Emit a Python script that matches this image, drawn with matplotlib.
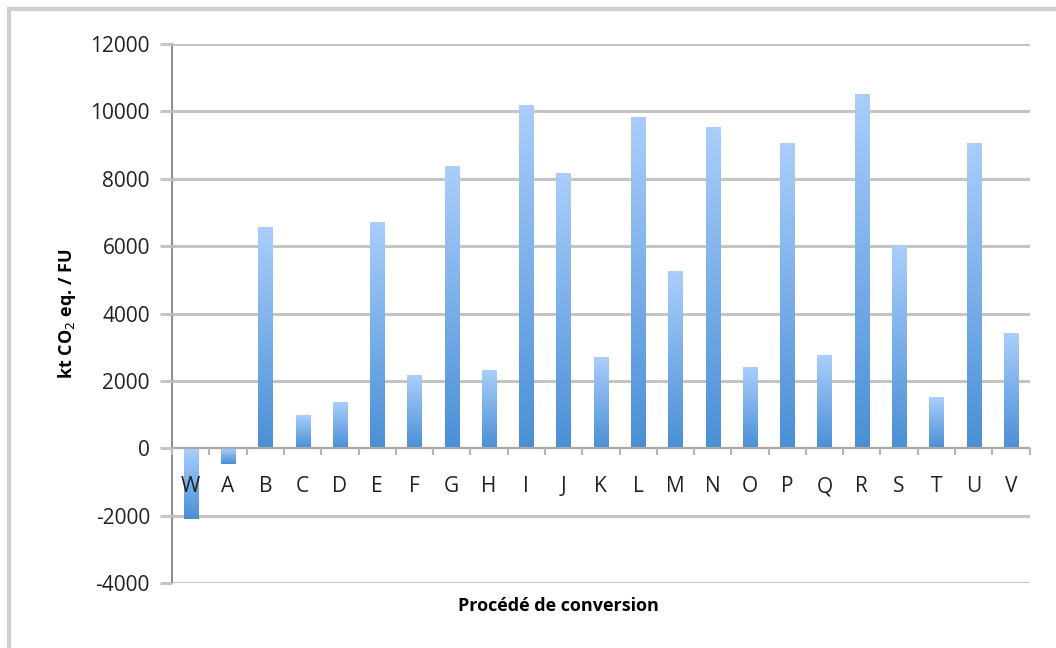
import numpy as np
import matplotlib.pyplot as plt
from matplotlib.colors import LinearSegmentedColormap
from matplotlib.patches import Rectangle

# Data
categories = ["W", "A", "B", "C", "D", "E", "F", "G", "H", "I", "J",
              "K", "L", "M", "N", "O", "P", "Q", "R", "S", "T", "U", "V"]
values = [-2100, -450, 6550, 950, 1350, 6700, 2150, 8350, 2300, 10150, 8150,
          2700, 9800, 5250, 9500, 2400, 9050, 2750, 10500, 6000, 1500, 9050, 3400]
y_ticks = [-4000, -2000, 0, 2000, 4000, 6000, 8000, 10000, 12000]

plt.rcParams["font.family"] = ["Open Sans", "DejaVu Sans"]

grid_color = "#c4c4c4"
grad = LinearSegmentedColormap.from_list("bar", ["#4a8fd6", "#aacefb"])

fig = plt.figure(figsize=(10.56, 6.48), dpi=100)
ax = fig.add_axes([0.163, 0.100, 0.812, 0.832])

x = np.arange(len(categories))
bars = ax.bar(x, values, width=0.38, color="none", zorder=1)

# gradient fill: light at top of bar, darker at bottom
g = np.linspace(0, 1, 256).reshape(-1, 1)
for b in bars:
    x0 = b.get_x()
    x1 = x0 + b.get_width()
    y0 = min(b.get_y(), b.get_y() + b.get_height())
    y1 = max(b.get_y(), b.get_y() + b.get_height())
    ax.imshow(g, cmap=grad, extent=[x0, x1, y0, y1], origin="lower",
              aspect="auto", zorder=1, interpolation="bicubic")

for t in y_ticks:
    if t != 0:
        ax.axhline(t, color=grid_color, lw=2.2, zorder=0.5)
ax.axhline(0, color="#a8a8a8", lw=1.6, zorder=2)

ax.set_xlim(-0.5, len(categories) - 0.5)
ax.set_ylim(-4000, 12000)
ax.set_yticks(y_ticks)
ax.set_yticklabels([str(t) for t in y_ticks])
ax.tick_params(axis="y", length=9, width=2.2, color=grid_color, pad=7,
               labelsize=15, labelcolor="#222222")

ax.set_xticks(x)
ax.set_xticklabels(categories)
ax.set_xticks(np.arange(len(categories) + 1) - 0.5, minor=True)
ax.tick_params(axis="x", which="major", length=0, pad=20,
               labelsize=15, labelcolor="#222222")
ax.tick_params(axis="x", which="minor", length=5, width=1.5, color="#b5b5b5",
               direction="out")
ax.set_axisbelow(False)

ax.spines["bottom"].set_position(("data", 0))
ax.spines["bottom"].set_visible(False)
ax.spines["top"].set_visible(False)
ax.spines["right"].set_visible(False)
ax.spines["left"].set_color("#8f8f8f")
ax.spines["left"].set_linewidth(1.5)

ax.set_xlabel("Procédé de conversion", fontsize=13, fontweight="bold", labelpad=0)
ax.xaxis.set_label_coords(0.451, -0.025)
ax.set_ylabel("kt CO$_2$ eq. / FU", fontsize=13, fontweight="bold")
ax.yaxis.set_label_coords(-0.11, 0.5)

# outer chart frame (cropped at right and bottom)
fig.patches.append(Rectangle((9 / 1056, -0.1), 1.2, 1 - 9 / 648 + 0.1,
                             transform=fig.transFigure, fill=False,
                             edgecolor="#cfcfcf", lw=3))

fig.savefig("out.png", dpi=100)
